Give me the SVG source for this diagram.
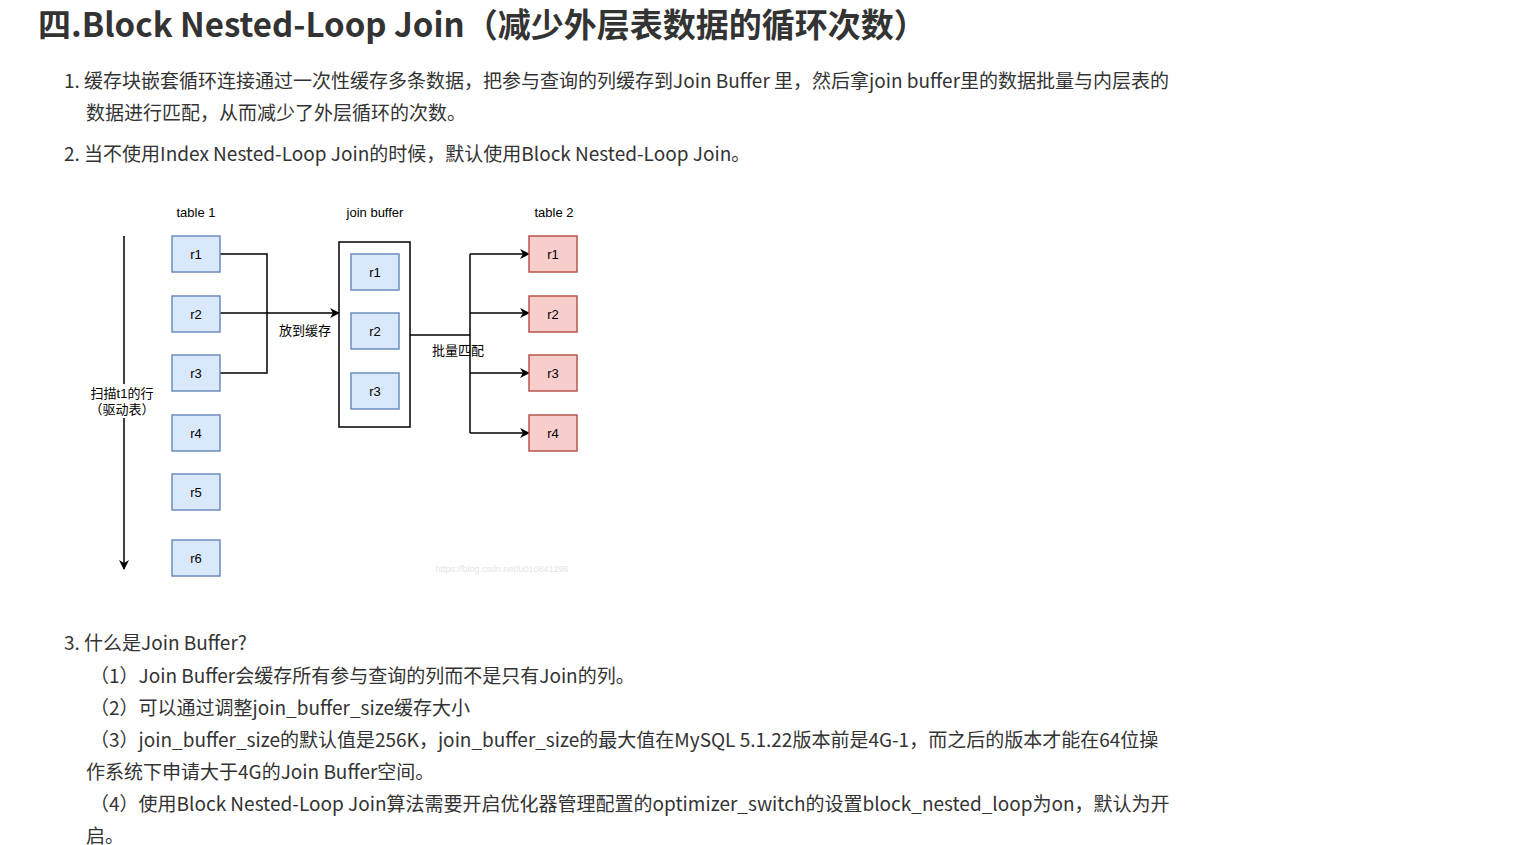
<svg xmlns="http://www.w3.org/2000/svg" width="1515" height="845" viewBox="0 0 1515 845">
<defs>
<marker id="ah" viewBox="0 0 10 10" refX="9" refY="5" markerWidth="10" markerHeight="10" markerUnits="userSpaceOnUse" orient="auto"><path d="M0,0L10,5L0,10L3,5z" fill="#000"/></marker>
<style>
.t{font-family:"Noto Sans CJK SC","Noto Sans",sans-serif;fill:#333;font-size:19px}
.h{font-family:"Noto Sans CJK SC","Noto Sans",sans-serif;fill:#333;font-size:33px;font-weight:bold}
.s{font-family:"Liberation Sans","Noto Sans CJK SC",sans-serif;font-size:13px;fill:#000}
.b{fill:#dae8fc;stroke:#6c8ebf;stroke-width:1.5}
.p{fill:#f8cecc;stroke:#b85450;stroke-width:1.5}
.l{fill:none;stroke:#000;stroke-width:1.5}
</style>
</defs>
<rect width="1515" height="845" fill="#fff"/>
<text class="h" x="38" y="37">四.Block Nested-Loop Join（减少外层表数据的循环次数）</text>
<text class="t" x="64" y="88">1. 缓存块嵌套循环连接通过一次性缓存多条数据，把参与查询的列缓存到Join Buffer 里，然后拿join buffer里的数据批量与内层表的</text>
<text class="t" x="86" y="120">数据进行匹配，从而减少了外层循环的次数。</text>
<text class="t" x="64" y="161">2. 当不使用Index Nested-Loop Join的时候，默认使用Block Nested-Loop Join。</text>
<g id="labels">
<text class="s" x="196" y="217" text-anchor="middle">table 1</text>
<text class="s" x="375" y="217" text-anchor="middle">join buffer</text>
<text class="s" x="554" y="217" text-anchor="middle">table 2</text>
</g>
<g id="connectors">
<line class="l" x1="124" y1="236" x2="124" y2="569" marker-end="url(#ah)"/>
<polyline class="l" points="220,254 267,254 267,373 220,373"/>
<line class="l" x1="220" y1="313" x2="339" y2="313" marker-end="url(#ah)"/>
<polyline class="l" points="410,335 470,335"/>
<line class="l" x1="470" y1="254" x2="470" y2="433"/>
<line class="l" x1="470" y1="254" x2="529" y2="254" marker-end="url(#ah)"/>
<line class="l" x1="470" y1="313" x2="529" y2="313" marker-end="url(#ah)"/>
<line class="l" x1="470" y1="373" x2="529" y2="373" marker-end="url(#ah)"/>
<line class="l" x1="470" y1="433" x2="529" y2="433" marker-end="url(#ah)"/>
<rect x="88" y="384" width="72" height="34" fill="#fff"/>
<text class="s" x="122" y="398" text-anchor="middle">扫描t1的行</text>
<text class="s" x="122" y="414" text-anchor="middle">（驱动表）</text>
<text class="s" x="305" y="335" text-anchor="middle">放到缓存</text>
<text class="s" x="458" y="355" text-anchor="middle">批量匹配</text>
</g>
<g id="t1r1"><rect class="b" x="172" y="236" width="48" height="36"/><text class="s" x="196" y="259" text-anchor="middle">r1</text></g>
<g id="t1r2"><rect class="b" x="172" y="296" width="48" height="36"/><text class="s" x="196" y="319" text-anchor="middle">r2</text></g>
<g id="t1r3"><rect class="b" x="172" y="355" width="48" height="36"/><text class="s" x="196" y="378" text-anchor="middle">r3</text></g>
<g id="t1r4"><rect class="b" x="172" y="415" width="48" height="36"/><text class="s" x="196" y="438" text-anchor="middle">r4</text></g>
<g id="t1r5"><rect class="b" x="172" y="474" width="48" height="36"/><text class="s" x="196" y="497" text-anchor="middle">r5</text></g>
<g id="t1r6"><rect class="b" x="172" y="540" width="48" height="36"/><text class="s" x="196" y="563" text-anchor="middle">r6</text></g>
<g id="buffer"><rect x="339" y="242" width="71" height="185" fill="#fff" stroke="#000" stroke-width="1.5"/></g>
<g id="bfr1"><rect class="b" x="351" y="254" width="48" height="36"/><text class="s" x="375" y="277" text-anchor="middle">r1</text></g>
<g id="bfr2"><rect class="b" x="351" y="313" width="48" height="36"/><text class="s" x="375" y="336" text-anchor="middle">r2</text></g>
<g id="bfr3"><rect class="b" x="351" y="373" width="48" height="36"/><text class="s" x="375" y="396" text-anchor="middle">r3</text></g>
<g id="t2r1"><rect class="p" x="529" y="236" width="48" height="36"/><text class="s" x="553" y="259" text-anchor="middle">r1</text></g>
<g id="t2r2"><rect class="p" x="529" y="296" width="48" height="36"/><text class="s" x="553" y="319" text-anchor="middle">r2</text></g>
<g id="t2r3"><rect class="p" x="529" y="355" width="48" height="36"/><text class="s" x="553" y="378" text-anchor="middle">r3</text></g>
<g id="t2r4"><rect class="p" x="529" y="415" width="48" height="36"/><text class="s" x="553" y="438" text-anchor="middle">r4</text></g>
<text x="502" y="572" text-anchor="middle" font-family="Liberation Sans,sans-serif" font-size="9" fill="#e4e4e4">https://blog.csdn.net/u010841296</text>
<text class="t" x="64" y="650">3. 什么是Join Buffer?</text>
<text class="t" x="90" y="683">（1）Join Buffer会缓存所有参与查询的列而不是只有Join的列。</text>
<text class="t" x="90" y="715">（2）可以通过调整join_buffer_size缓存大小</text>
<text class="t" x="90" y="747">（3）join_buffer_size的默认值是256K，join_buffer_size的最大值在MySQL 5.1.22版本前是4G-1，而之后的版本才能在64位操</text>
<text class="t" x="86" y="779">作系统下申请大于4G的Join Buffer空间。</text>
<text class="t" x="90" y="811">（4）使用Block Nested-Loop Join算法需要开启优化器管理配置的optimizer_switch的设置block_nested_loop为on，默认为开</text>
<text class="t" x="86" y="843">启。</text>
</svg>
